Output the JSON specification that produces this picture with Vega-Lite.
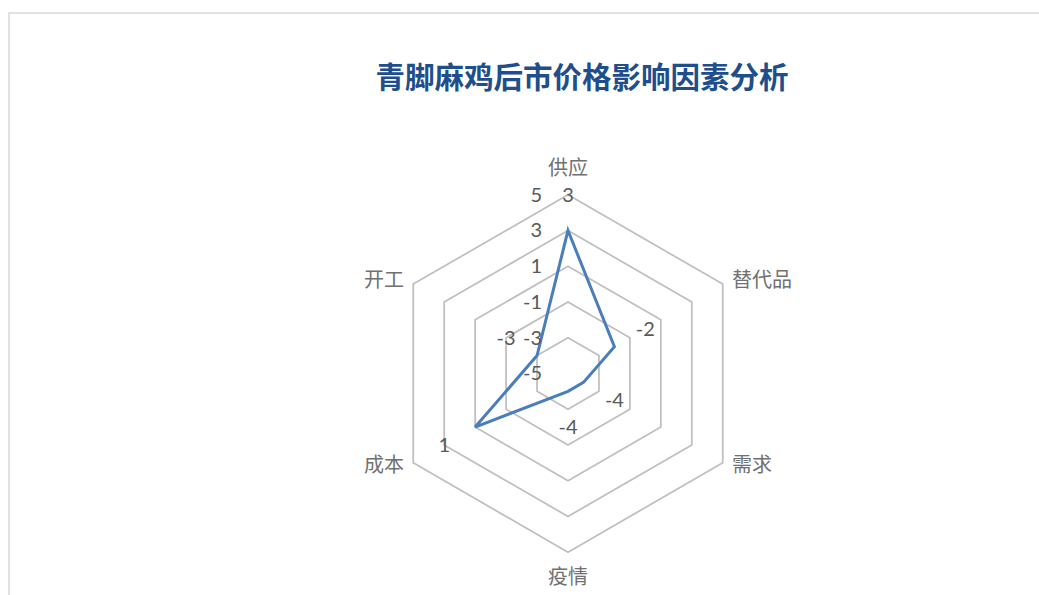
{
  "$schema": "https://vega.github.io/schema/vega-lite/v6.json",
  "autosize": {"type": "fit", "contains": "padding"},
  "width": 1039,
  "height": 595,
  "padding": {"left": 9, "top": 13, "right": -4, "bottom": -4},
  "background": "white",
  "config": {"view": {"stroke": "#D9D9D9", "strokeWidth": 1.5}},
  "title": {
    "text": "青脚麻鸡后市价格影响因素分析",
    "font": "Noto Sans CJK SC",
    "fontSize": 29.5,
    "fontWeight": "bold",
    "color": "#1F4E8C",
    "anchor": "middle",
    "frame": "group",
    "orient": "top",
    "baseline": "middle",
    "offset": -95,
    "dx": 56
  },
  "datasets": {
    "factors": [
      {"factor": "供应", "value": 3},
      {"factor": "替代品", "value": -2},
      {"factor": "需求", "value": -4},
      {"factor": "疫情", "value": -4},
      {"factor": "成本", "value": 1},
      {"factor": "开工", "value": -3}
    ],
    "ticks": [
      {"tick": -5}, {"tick": -3}, {"tick": -1}, {"tick": 1}, {"tick": 3}, {"tick": 5}
    ]
  },
  "data": {"name": "factors"},
  "transform": [
    {"window": [{"op": "row_number", "as": "rn"}]},
    {"calculate": "(datum.rn - 1) * PI / 3", "as": "theta"}
  ],
  "layer": [
    {
      "transform": [
        {"calculate": "[-3, -1, 1, 3, 5]", "as": "level"},
        {"flatten": ["level"]},
        {"calculate": "(datum.level + 5) * sin(datum.theta)", "as": "x"},
        {"calculate": "(datum.level + 5) * cos(datum.theta)", "as": "y"}
      ],
      "mark": {"type": "line", "interpolate": "linear-closed", "color": "#BFBFBF", "strokeWidth": 1.75},
      "encoding": {
        "x": {"field": "x", "type": "quantitative", "scale": {"domain": [-31.28, 26.58], "nice": false, "zero": false}, "axis": null},
        "y": {"field": "y", "type": "quantitative", "scale": {"domain": [-12.62, 20.17], "nice": false, "zero": false}, "axis": null},
        "detail": {"field": "level", "type": "nominal"},
        "order": {"field": "rn", "type": "quantitative"}
      }
    },
    {
      "transform": [
        {"calculate": "(datum.value + 5) * sin(datum.theta)", "as": "x"},
        {"calculate": "(datum.value + 5) * cos(datum.theta)", "as": "y"}
      ],
      "mark": {"type": "line", "interpolate": "linear-closed", "color": "#4A7EBB", "strokeWidth": 3},
      "encoding": {
        "x": {"field": "x", "type": "quantitative"},
        "y": {"field": "y", "type": "quantitative"},
        "order": {"field": "rn", "type": "quantitative"}
      }
    },
    {
      "data": {"name": "ticks"},
      "transform": [
        {"calculate": "0", "as": "x"},
        {"calculate": "datum.tick + 5", "as": "y"},
        {"calculate": "'' + datum.tick", "as": "label"}
      ],
      "mark": {"type": "text", "align": "right", "baseline": "middle", "dx": -26, "dy": 1, "font": "Lato", "fontSize": 20, "color": "#595959"},
      "encoding": {
        "x": {"field": "x", "type": "quantitative"},
        "y": {"field": "y", "type": "quantitative"},
        "text": {"field": "label", "type": "nominal"}
      }
    },
    {
      "transform": [
        {"calculate": "(datum.value + 7) * sin(datum.theta)", "as": "x"},
        {"calculate": "(datum.value + 7) * cos(datum.theta)", "as": "y"},
        {"calculate": "'' + datum.value", "as": "label"}
      ],
      "mark": {"type": "text", "align": "center", "baseline": "middle", "dy": 1, "font": "Lato", "fontSize": 20, "color": "#595959"},
      "encoding": {
        "x": {"field": "x", "type": "quantitative"},
        "y": {"field": "y", "type": "quantitative"},
        "text": {"field": "label", "type": "nominal"}
      }
    },
    {
      "transform": [
        {"filter": "datum.rn == 1 || datum.rn == 4"},
        {"calculate": "11.42 * sin(datum.theta)", "as": "x"},
        {"calculate": "11.42 * cos(datum.theta)", "as": "y"}
      ],
      "mark": {"type": "text", "align": "center", "baseline": "middle", "font": "Noto Sans CJK SC", "fontSize": 20, "color": "#707070"},
      "encoding": {
        "x": {"field": "x", "type": "quantitative"},
        "y": {"field": "y", "type": "quantitative"},
        "text": {"field": "factor", "type": "nominal"}
      }
    },
    {
      "transform": [
        {"filter": "datum.rn == 2 || datum.rn == 3"},
        {"calculate": "10.3 * sin(datum.theta)", "as": "x"},
        {"calculate": "10.3 * cos(datum.theta)", "as": "y"}
      ],
      "mark": {"type": "text", "align": "left", "baseline": "middle", "dx": 4.5, "font": "Noto Sans CJK SC", "fontSize": 20, "color": "#707070"},
      "encoding": {
        "x": {"field": "x", "type": "quantitative"},
        "y": {"field": "y", "type": "quantitative"},
        "text": {"field": "factor", "type": "nominal"}
      }
    },
    {
      "transform": [
        {"filter": "datum.rn == 5 || datum.rn == 6"},
        {"calculate": "10.3 * sin(datum.theta)", "as": "x"},
        {"calculate": "10.3 * cos(datum.theta)", "as": "y"}
      ],
      "mark": {"type": "text", "align": "right", "baseline": "middle", "dx": -4.5, "font": "Noto Sans CJK SC", "fontSize": 20, "color": "#707070"},
      "encoding": {
        "x": {"field": "x", "type": "quantitative"},
        "y": {"field": "y", "type": "quantitative"},
        "text": {"field": "factor", "type": "nominal"}
      }
    }
  ]
}
